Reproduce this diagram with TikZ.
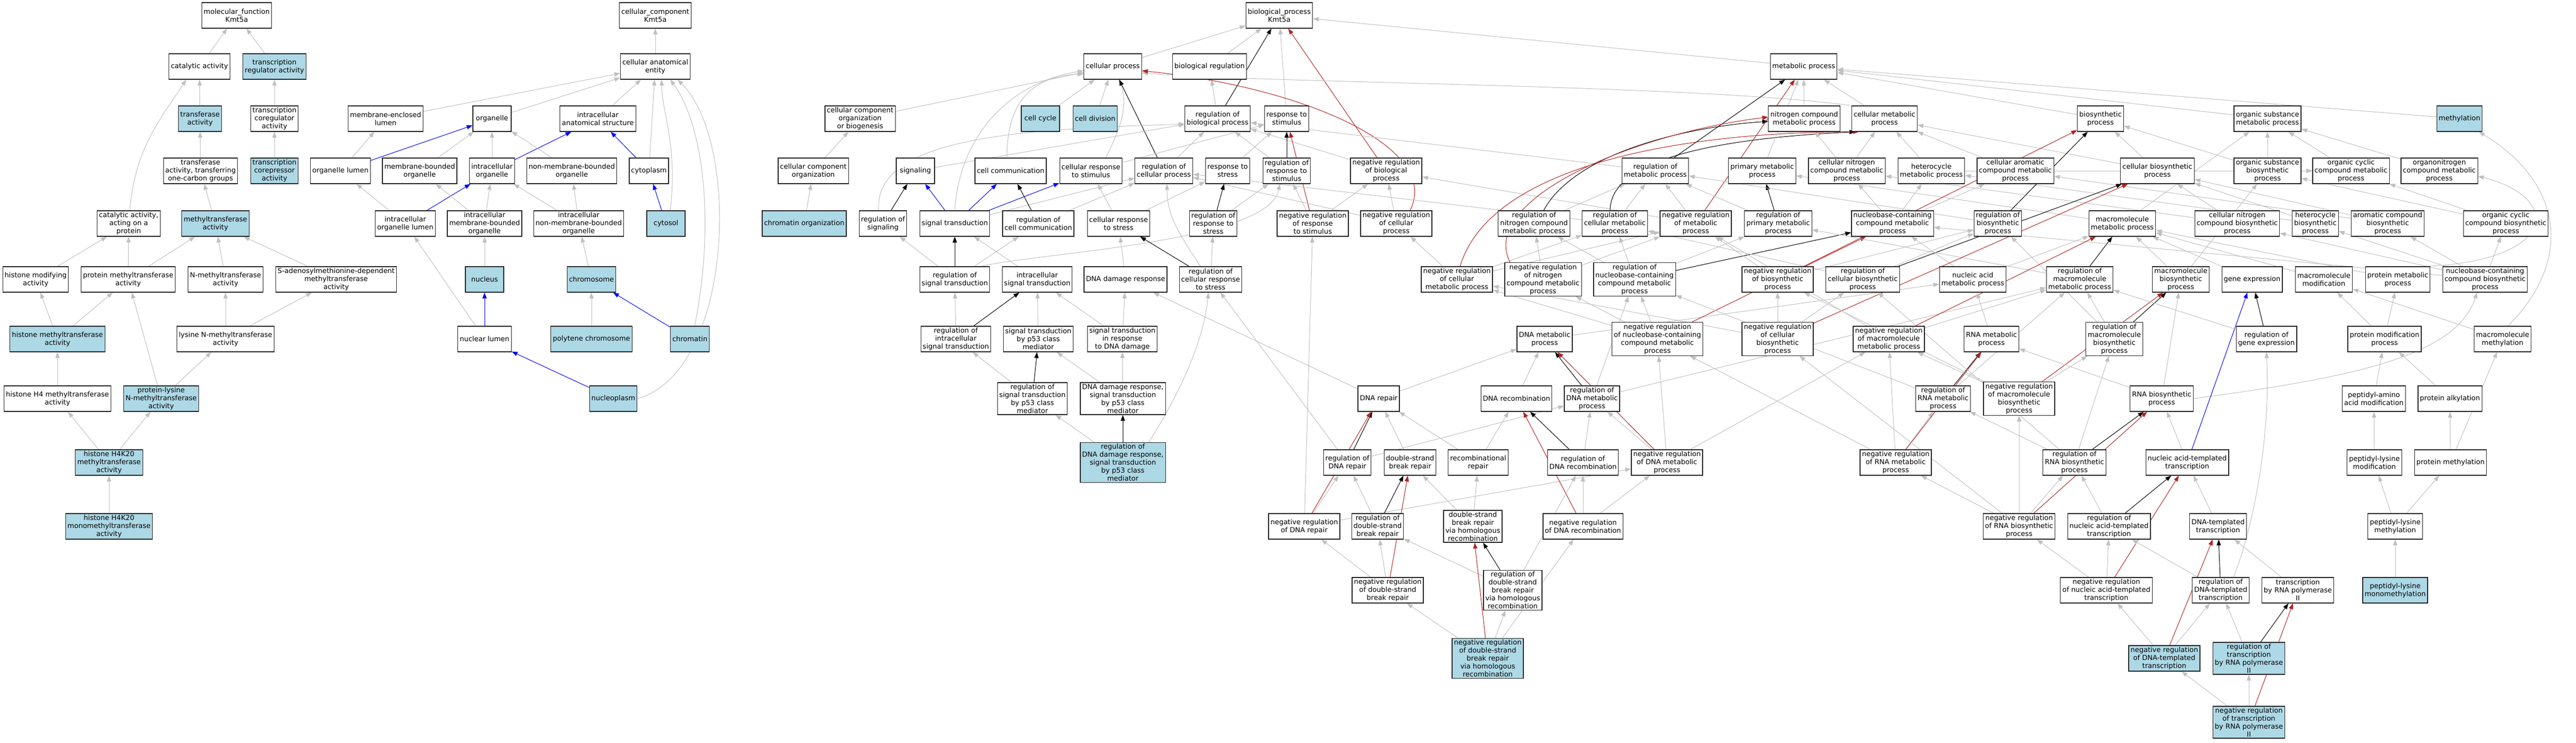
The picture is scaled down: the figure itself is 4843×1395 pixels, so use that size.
\documentclass[tikz,border=0pt]{standalone}
\usepackage{fontspec}
\setmainfont{DejaVu Sans}
\usetikzlibrary{arrows.meta}
\pgfdeclarelayer{edges}
\pgfsetlayers{edges,main}
\definecolor{termblue}{HTML}{ADD8E6}
\definecolor{isagray}{HTML}{C0C0C0}
\definecolor{negred}{HTML}{B22222}

\begin{document}
\begin{tikzpicture}[x=1pt,y=-1pt,
    term/.style={draw=black!85,line width=1.2pt,fill=white,rectangle,align=center,minimum width=72pt,minimum height=48pt,inner xsep=3.5pt,inner ysep=2.5pt,font=\fontsize{13}{15}\selectfont},
    hit/.style={term,fill=termblue},
    isa/.style={isagray,line width=1pt,-{Triangle[length=11pt,width=8pt]}},
    regl/.style={isa,black},
    partof/.style={isa,blue},
    negl/.style={isa,negred}]
    \useasboundingbox (0,0) rectangle (4843,1395);

    % molecular function
    \node[term] (mfunc) at (445,29) {molecular\_function\\Kmt5a};
    \node[term] (catact) at (375,125) {catalytic activity};
    \node[hit] (trreg) at (516,125) {transcription\\regulator activity};
    \node[hit] (transf) at (376,223) {transferase\\activity};
    \node[term] (trcoreg) at (516,223) {transcription\\coregulator\\activity};
    \node[term] (transfone) at (377,321) {transferase\\activity, transferring\\one-carbon groups};
    \node[hit] (trcorep) at (516,321) {transcription\\corepressor\\activity};
    \node[term] (catprot) at (242,420) {catalytic activity,\\acting on a\\protein};
    \node[hit] (mtase) at (405,420) {methyltransferase\\activity};
    \node[term] (histmod) at (67,525) {histone modifying\\activity};
    \node[term] (protmt) at (241,525) {protein methyltransferase\\activity};
    \node[term] (nmt) at (424,525) {N-methyltransferase\\activity};
    \node[term] (samdep) at (632,525) {S-adenosylmethionine-dependent\\methyltransferase\\activity};
    \node[hit] (histmt) at (108,637) {histone methyltransferase\\activity};
    \node[term] (lysnmt) at (424,637) {lysine N-methyltransferase\\activity};
    \node[term] (h4mt) at (108,749) {histone H4 methyltransferase\\activity};
    \node[hit] (plnmt) at (303,749) {protein-lysine\\N-methyltransferase\\activity};
    \node[hit] (h4kmt) at (205,869) {histone H4K20\\methyltransferase\\activity};
    \node[hit] (h4kmono) at (205,989) {histone H4K20\\monomethyltransferase\\activity};

    % cellular component
    \node[term] (ccomp) at (1232,29) {cellular\_component\\Kmt5a};
    \node[term] (cae) at (1232,125) {cellular anatomical\\entity};
    \node[term] (melumen) at (725,223) {membrane-enclosed\\lumen};
    \node[term] (organelle) at (925,223) {organelle};
    \node[term] (ias) at (1124,223) {intracellular\\anatomical structure};
    \node[term] (ccob) at (1617,223) {cellular component\\organization\\or biogenesis};
    \node[term] (orglumen) at (640,321) {organelle lumen};
    \node[term] (mbo) at (789,321) {membrane-bounded\\organelle};
    \node[term] (intorg) at (925,321) {intracellular\\organelle};
    \node[term] (nmbo) at (1075,321) {non-membrane-bounded\\organelle};
    \node[term] (cytoplasm) at (1220,321) {cytoplasm};
    \node[term] (cco) at (1529,321) {cellular component\\organization};
    \node[term] (intorglumen) at (762,420) {intracellular\\organelle lumen};
    \node[term] (imbo) at (911,420) {intracellular\\membrane-bounded\\organelle};
    \node[term] (inmbo) at (1088,420) {intracellular\\non-membrane-bounded\\organelle};
    \node[hit] (cytosol) at (1252,420) {cytosol};
    \node[hit] (chromorg) at (1512,420) {chromatin organization};
    \node[hit] (nucleus) at (911,525) {nucleus};
    \node[hit] (chromosome) at (1112,525) {chromosome};
    \node[term] (nuclumen) at (911,637) {nuclear lumen};
    \node[hit] (polytene) at (1112,637) {polytene chromosome};
    \node[hit] (chromatin) at (1297,637) {chromatin};
    \node[hit] (nucleoplasm) at (1153,749) {nucleoplasm};

    % biological process
    \node[term] (bproc) at (2405,29) {biological\_process\\Kmt5a};
    \node[term] (cellproc) at (2092,125) {cellular process};
    \node[term] (bioreg) at (2274,125) {biological regulation};
    \node[term] (metproc) at (3391,125) {metabolic process};
    \node[hit] (cellcycle) at (1956,223) {cell cycle};
    \node[hit] (celldiv) at (2059,223) {cell division};
    \node[term] (regbp) at (2289,223) {regulation of\\biological process};
    \node[term] (respstim) at (2419,223) {response to\\stimulus};
    \node[term] (nitmet) at (3392,223) {nitrogen compound\\metabolic process};
    \node[term] (cellmet) at (3543,223) {cellular metabolic\\process};
    \node[term] (biosyn) at (3949,223) {biosynthetic\\process};
    \node[term] (orgsubmet) at (4263,223) {organic substance\\metabolic process};
    \node[hit] (methylation) at (4624,223) {methylation};

    \node[term] (signaling) at (1721,321) {signaling};
    \node[term] (cellcomm) at (1900,321) {cell communication};
    \node[term] (cellrespstim) at (2051,321) {cellular response\\to stimulus};
    \node[term] (regcellproc) at (2188,321) {regulation of\\cellular process};
    \node[term] (respstress) at (2308,321) {response to\\stress};
    \node[term] (regrespstim) at (2419,321) {regulation of\\response to\\stimulus};
    \node[term] (negregbp) at (2606,321) {negative regulation\\of biological\\process};
    \node[term] (regmet) at (3112,321) {regulation of\\metabolic process};
    \node[term] (primmet) at (3313,321) {primary metabolic\\process};
    \node[term] (cellnitmet) at (3472,321) {cellular nitrogen\\compound metabolic\\process};
    \node[term] (hetmet) at (3631,321) {heterocycle\\metabolic process};
    \node[term] (cellarom) at (3789,321) {cellular aromatic\\compound metabolic\\process};
    \node[term] (cellbiosyn) at (4056,321) {cellular biosynthetic\\process};
    \node[term] (orgsubbiosyn) at (4263,321) {organic substance\\biosynthetic\\process};
    \node[term] (orgcycmet) at (4420,321) {organic cyclic\\compound metabolic\\process};
    \node[term] (orgnitmet) at (4586,321) {organonitrogen\\compound metabolic\\process};

    \node[term] (regsig) at (1660,420) {regulation of\\signaling};
    \node[term] (sigtrans) at (1795,420) {signal transduction};
    \node[term] (regcellcomm) at (1952,420) {regulation of\\cell communication};
    \node[term] (cellrespstress) at (2103,420) {cellular response\\to stress};
    \node[term] (regrespstress) at (2281,420) {regulation of\\response to\\stress};
    \node[term] (negregrespstim) at (2468,420) {negative regulation\\of response\\to stimulus};
    \node[term] (negregcellproc) at (2625,420) {negative regulation\\of cellular\\process};
    \node[term] (regnitmet) at (2884,420) {regulation of\\nitrogen compound\\metabolic process};
    \node[term] (regcellmet) at (3036,420) {regulation of\\cellular metabolic\\process};
    \node[term] (negregmet) at (3188,420) {negative regulation\\of metabolic\\process};
    \node[term] (regprimmet) at (3343,420) {regulation of\\primary metabolic\\process};
    \node[term] (nucbasemet) at (3558,420) {nucleobase-containing\\compound metabolic\\process};
    \node[term] (regbiosyn) at (3756,420) {regulation of\\biosynthetic\\process};
    \node[term] (macromet) at (3990,420) {macromolecule\\metabolic process};
    \node[term] (cellnitbiosyn) at (4206,420) {cellular nitrogen\\compound biosynthetic\\process};
    \node[term] (hetbiosyn) at (4353,420) {heterocycle\\biosynthetic\\process};
    \node[term] (arombiosyn) at (4489,420) {aromatic compound\\biosynthetic\\process};
    \node[term] (orgcycbiosyn) at (4711,420) {organic cyclic\\compound biosynthetic\\process};

    \node[term] (regsigtrans) at (1795,525) {regulation of\\signal transduction};
    \node[term] (intsigtrans) at (1950,525) {intracellular\\signal transduction};
    \node[term] (dnadamresp) at (2116,525) {DNA damage response};
    \node[term] (regcellrespstress) at (2276,525) {regulation of\\cellular response\\to stress};
    \node[term] (negregcellmet) at (2739,525) {negative regulation\\of cellular\\metabolic process};
    \node[term] (negregnitmet) at (2901,525) {negative regulation\\of nitrogen\\compound metabolic\\process};
    \node[term] (regnucbase) at (3073,525) {regulation of\\nucleobase-containing\\compound metabolic\\process};
    \node[term] (negregbiosyn) at (3342,525) {negative regulation\\of biosynthetic\\process};
    \node[term] (regcellbiosyn) at (3502,525) {regulation of\\cellular biosynthetic\\process};
    \node[term] (nucacidmet) at (3709,525) {nucleic acid\\metabolic process};
    \node[term] (regmacromet) at (3910,525) {regulation of\\macromolecule\\metabolic process};
    \node[term] (macrobiosyn) at (4100,525) {macromolecule\\biosynthetic\\process};
    \node[term] (geneexpr) at (4234,525) {gene expression};
    \node[term] (macromod) at (4369,525) {macromolecule\\modification};
    \node[term] (protmet) at (4508,525) {protein metabolic\\process};
    \node[term] (nucbasebiosyn) at (4672,525) {nucleobase-containing\\compound biosynthetic\\process};

    \node[term] (regintsig) at (1797,637) {regulation of\\intracellular\\signal transduction};
    \node[term] (sigpft) at (1952,637) {signal transduction\\by p53 class\\mediator};
    \node[term] (sigdna) at (2110,637) {signal transduction\\in response\\to DNA damage};
    \node[term] (dnamet) at (2904,637) {DNA metabolic\\process};
    \node[term] (negregnucbase) at (3116,637) {negative regulation\\of nucleobase-containing\\compound metabolic\\process};
    \node[term] (negregcellbiosyn) at (3342,637) {negative regulation\\of cellular\\biosynthetic\\process};
    \node[term] (negregmacromet) at (3551,637) {negative regulation\\of macromolecule\\metabolic process};
    \node[term] (rnamet) at (3744,637) {RNA metabolic\\process};
    \node[term] (regmacrobiosyn) at (3975,637) {regulation of\\macromolecule\\biosynthetic\\process};
    \node[term] (reggeneexpr) at (4261,637) {regulation of\\gene expression};
    \node[term] (protmod) at (4483,637) {protein modification\\process};
    \node[term] (macromethyl) at (4705,637) {macromolecule\\methylation};

    \node[term] (regsigpft) at (1941,749) {regulation of\\signal transduction\\by p53 class\\mediator};
    \node[term] (dnasigpft) at (2111,749) {DNA damage response,\\signal transduction\\by p53 class\\mediator};
    \node[term] (dnarepair) at (2592,749) {DNA repair};
    \node[term] (dnarecomb) at (2851,749) {DNA recombination};
    \node[term] (regdnamet) at (2993,749) {regulation of\\DNA metabolic\\process};
    \node[term] (regrnamet) at (3653,749) {regulation of\\RNA metabolic\\process};
    \node[term] (negregmacrobiosyn) at (3796,749) {negative regulation\\of macromolecule\\biosynthetic\\process};
    \node[term] (rnabiosyn) at (4064,749) {RNA biosynthetic\\process};
    \node[term] (peptaa) at (4463,749) {peptidyl-amino\\acid modification};
    \node[term] (protalk) at (4606,749) {protein alkylation};

    \node[hit] (regdnadam) at (2111,869) {regulation of\\DNA damage response,\\signal transduction\\by p53 class\\mediator};
    \node[term] (regdnarepair) at (2533,869) {regulation of\\DNA repair};
    \node[term] (dsbrepair) at (2651,869) {double-strand\\break repair};
    \node[term] (recombrepair) at (2779,869) {recombinational\\repair};
    \node[term] (regdnarecomb) at (2976,869) {regulation of\\DNA recombination};
    \node[term] (negregdnamet) at (3134,869) {negative regulation\\of DNA metabolic\\process};
    \node[term] (negregrnamet) at (3564,869) {negative regulation\\of RNA metabolic\\process};
    \node[term] (regrnabiosyn) at (3900,869) {regulation of\\RNA biosynthetic\\process};
    \node[term] (nucacidtrans) at (4112,869) {nucleic acid-templated\\transcription};
    \node[term] (peptlysmod) at (4464,869) {peptidyl-lysine\\modification};
    \node[term] (protmethyl) at (4607,869) {protein methylation};

    \node[term] (negregdnarepair) at (2452,989) {negative regulation\\of DNA repair};
    \node[term] (regdsb) at (2590,989) {regulation of\\double-strand\\break repair};
    \node[term] (dsbhr) at (2769,989) {double-strand\\break repair\\via homologous\\recombination};
    \node[term] (negregdnarecomb) at (2976,989) {negative regulation\\of DNA recombination};
    \node[term] (negregrnabiosyn) at (3796,989) {negative regulation\\of RNA biosynthetic\\process};
    \node[term] (regnucacidtrans) at (3965,989) {regulation of\\nucleic acid-templated\\transcription};
    \node[term] (dnatrans) at (4170,989) {DNA-templated\\transcription};
    \node[term] (peptlysmethyl) at (4503,989) {peptidyl-lysine\\methylation};

    \node[term] (negregdsb) at (2609,1109) {negative regulation\\of double-strand\\break repair};
    \node[term] (regdsbhr) at (2844,1109) {regulation of\\double-strand\\break repair\\via homologous\\recombination};
    \node[term] (negregnucacidtrans) at (3960,1109) {negative regulation\\of nucleic acid-templated\\transcription};
    \node[term] (regdnatrans) at (4175,1109) {regulation of\\DNA-templated\\transcription};
    \node[term] (transpoltwo) at (4320,1109) {transcription\\by RNA polymerase\\II};
    \node[hit] (peptlysmono) at (4503,1109) {peptidyl-lysine\\monomethylation};

    \node[hit] (negregdsbhr) at (2797,1237) {negative regulation\\of double-strand\\break repair\\via homologous\\recombination};
    \node[hit] (negregdnatrans) at (4069,1237) {negative regulation\\of DNA-templated\\transcription};
    \node[hit] (regtranspoltwo) at (4228,1237) {regulation of\\transcription\\by RNA polymerase\\II};
    \node[hit] (negregtranspoltwo) at (4228,1357) {negative regulation\\of transcription\\by RNA polymerase\\II};

    \begin{pgfonlayer}{edges}
    % molecular function edges
    \draw[isa] (catact) -- (mfunc);
    \draw[isa] (trreg) -- (mfunc);
    \draw[isa] (transf) -- (catact);
    \draw[isa] (trcoreg) -- (trreg);
    \draw[isa] (trcorep) -- (trcoreg);
    \draw[isa] (transfone) -- (transf);
    \draw[isa] ([xshift=2pt]catprot.north) .. controls +(10,-120) and +(-45,70) .. ([xshift=-25pt]catact.south);
    \draw[isa] (mtase) -- (transfone);
    \draw[isa] (histmod) -- (catprot);
    \draw[isa] (protmt) -- (catprot);
    \draw[isa] (protmt) -- (mtase);
    \draw[isa] (nmt) -- (mtase);
    \draw[isa] (samdep) -- (mtase);
    \draw[isa] (histmt) -- (histmod);
    \draw[isa] (histmt) -- (protmt);
    \draw[isa] (lysnmt) -- (nmt);
    \draw[isa] (lysnmt) -- (samdep);
    \draw[isa] (plnmt) -- (protmt);
    \draw[isa] (plnmt) -- (lysnmt);
    \draw[isa] (h4mt) -- (histmt);
    \draw[isa] (h4kmt) -- (h4mt);
    \draw[isa] (h4kmt) -- (plnmt);
    \draw[isa] (h4kmono) -- (h4kmt);

    % cellular component edges
    \draw[isa] (cae) -- (ccomp);
    \draw[isa] (melumen) -- (cae);
    \draw[isa] (organelle) -- (cae);
    \draw[isa] (ias) -- (cae);
    \draw[isa] (cytoplasm) -- (cae);
    \draw[isa] ([xshift=8pt]cytosol.north) .. controls +(15,-120) and +(0,60) .. ([xshift=12pt]cae.south);
    \draw[isa] ([xshift=9pt]chromatin.north) .. controls +(40,-200) and +(60,80) .. ([xshift=28pt]cae.south);
    \draw[isa] (nucleoplasm.east) .. controls +(180,-50) and +(120,120) .. ([xshift=42pt]cae.south);
    \draw[isa] (orglumen) -- (melumen);
    \draw[partof] (orglumen) -- (organelle);
    \draw[isa] (mbo) -- (organelle);
    \draw[isa] (intorg) -- (organelle);
    \draw[partof] (intorg) -- (ias);
    \draw[isa] (nmbo) -- (organelle);
    \draw[partof] (cytoplasm) -- (ias);
    \draw[isa] (intorglumen) -- (orglumen);
    \draw[partof] (intorglumen) -- (intorg);
    \draw[isa] (imbo) -- (mbo);
    \draw[isa] (imbo) -- (intorg);
    \draw[isa] (inmbo) -- (intorg);
    \draw[isa] (inmbo) -- (nmbo);
    \draw[partof] (cytosol) -- (cytoplasm);
    \draw[isa] (nucleus) -- (imbo);
    \draw[isa] (chromosome) -- (inmbo);
    \draw[isa] (nuclumen) -- (intorglumen);
    \draw[partof] (nuclumen) -- (nucleus);
    \draw[isa] (polytene) -- (chromosome);
    \draw[partof] (chromatin) -- (chromosome);
    \draw[partof] (nucleoplasm) -- (nuclumen);
    \draw[isa] (chromorg) -- (cco);
    \draw[isa] (cco) -- (ccob);
    \draw[isa] (ccob) -- (cellproc);

    % biological process edges
    \draw[isa] (cellproc) -- (bproc);
    \draw[isa] (bioreg) -- (bproc);
    \draw[isa] (respstim) -- (bproc);
    \draw[isa] (metproc) -- (bproc);
    \draw[isa] (regbp) -- (bioreg);
    \draw[regl] (regbp) -- (bproc);
    \draw[negl] (negregbp) -- (bproc);
    \draw[isa] (negregbp) -- (regbp);
    \draw[isa] (cellcycle) -- (cellproc);
    \draw[isa] (celldiv) -- (cellproc);
    \draw[isa] (sigtrans.north) .. controls +(10,-150) and +(-130,20) .. ([yshift=-8pt]cellproc.west);
    \draw[isa] ([xshift=-7pt]cellcomm.north) .. controls +(0,-90) and +(-110,5) .. ([yshift=-14pt]cellproc.west);
    \draw[isa] ([xshift=28pt]cellrespstim.north) .. controls +(30,-60) and +(15,50) .. ([xshift=13pt]cellproc.south);
    \draw[isa] (cellmet.north west) .. controls +(-300,-40) and +(250,20) .. ([yshift=-12pt]cellproc.east);
    \draw[regl] (regcellproc) -- (cellproc);
    \draw[negl] ([xshift=26pt]negregcellproc.north) .. controls +(60,-120) and +(300,30) .. ([yshift=-8pt]cellproc.east);
    \draw[isa] (signaling) -- (regbp);
    \draw[isa] ([xshift=-8pt]regsig.north) .. controls +(-10,-140) and +(-300,10) .. ([yshift=-10pt]regbp.west);
    \draw[isa] (regcellproc) -- (regbp);
    \draw[isa] (regrespstim) -- (regbp);
    \draw[isa] (regmet) -- (regbp);
    \draw[isa] (cellrespstim) -- (respstim);
    \draw[isa] (respstress) -- (respstim);
    \draw[regl] (regrespstim) -- (respstim);
    \draw[negl] (negregrespstim) -- (respstim);
    \draw[regl] (regsig) -- (signaling);
    \draw[partof] (sigtrans) -- (signaling);
    \draw[partof] (sigtrans) -- (cellcomm);
    \draw[partof] (sigtrans) -- (cellrespstim);
    \draw[isa] (sigtrans) -- (regcellproc);
    \draw[regl] (regcellcomm) -- (cellcomm);
    \draw[isa] (regcellcomm) -- (regcellproc);
    \draw[isa] (regcellmet) -- (regcellproc);
    \draw[isa] (negregcellproc) -- (regcellproc);
    \draw[isa] ([xshift=-19pt]regcellrespstress.north) .. controls +(-40,-60) and +(0,60) .. ([xshift=6pt]regcellproc.south);
    \draw[isa] (cellrespstress) -- (cellrespstim);
    \draw[isa] (cellrespstress) -- (respstress);
    \draw[regl] (regrespstress) -- (respstress);
    \draw[isa] (regrespstress) -- (regrespstim);
    \draw[isa] (negregrespstim) -- (regrespstim);
    \draw[isa] (negregrespstim) -- (negregbp);
    \draw[isa] (negregcellproc) -- (negregbp);
    \draw[isa] (negregmet) -- (negregbp);
    \draw[regl] (regsigtrans) -- (sigtrans);
    \draw[isa] (regsigtrans) -- (regsig);
    \draw[isa] (regsigtrans) -- (regcellcomm);
    \draw[isa] ([xshift=50pt]regsigtrans.north) .. controls +(100,-25) and +(-20,110) .. ([xshift=-13pt]regrespstim.south);
    \draw[isa] (intsigtrans) -- (sigtrans);
    \draw[isa] (dnadamresp) -- (cellrespstress);
    \draw[regl] (regcellrespstress) -- (cellrespstress);
    \draw[isa] (regcellrespstress) -- (regrespstress);
    \draw[isa] (regintsig) -- (regsigtrans);
    \draw[regl] (regintsig) -- (intsigtrans);
    \draw[isa] (sigpft) -- (intsigtrans);
    \draw[isa] (sigdna) -- (intsigtrans);
    \draw[isa] (sigdna) -- (dnadamresp);
    \draw[isa] (regsigpft) -- (regintsig);
    \draw[regl] (regsigpft) -- (sigpft);
    \draw[isa] (dnasigpft) -- (sigpft);
    \draw[isa] (dnasigpft) -- (sigdna);
    \draw[isa] (regdnadam) -- (regsigpft);
    \draw[regl] (regdnadam) -- (dnasigpft);
    \draw[isa] ([xshift=49pt]regdnadam.north) .. controls +(50,-80) and +(-10,100) .. ([xshift=-4pt]regcellrespstress.south);

    % DNA repair and recombination
    \draw[isa] (dnarepair) -- (dnadamresp);
    \draw[isa] (dnarepair) -- (dnamet);
    \draw[isa] (dnarecomb) -- (dnamet);
    \draw[regl] (regdnamet) -- (dnamet);
    \draw[isa] (regdnamet) -- (regnucbase);
    \draw[isa] (regdnamet) -- (regmacromet);
    \draw[regl] (regdnarepair) -- (dnarepair);
    \draw[isa] (regdnarepair) -- (regcellrespstress);
    \draw[isa] (regdnarepair) -- (regdnamet);
    \draw[isa] (dsbrepair) -- (dnarepair);
    \draw[isa] (recombrepair) -- (dnarepair);
    \draw[isa] (recombrepair) -- (dnarecomb);
    \draw[regl] (regdnarecomb) -- (dnarecomb);
    \draw[isa] (regdnarecomb) -- (regdnamet);
    \draw[isa] (negregdnamet) -- (regdnamet);
    \draw[negl] (negregdnamet) -- (dnamet);
    \draw[isa] (negregdnamet) -- (negregnucbase);
    \draw[isa] (negregdnamet) -- (negregmacromet);
    \draw[isa] (negregdnarepair) -- (regdnarepair);
    \draw[negl] (negregdnarepair) -- (dnarepair);
    \draw[isa] (negregdnarepair) -- (negregdnamet);
    \draw[isa] (negregdnarepair) -- (negregrespstim);
    \draw[isa] (regdsb) -- (regdnarepair);
    \draw[regl] (regdsb) -- (dsbrepair);
    \draw[isa] (dsbhr) -- (dsbrepair);
    \draw[isa] (dsbhr) -- (recombrepair);
    \draw[isa] (negregdnarecomb) -- (regdnarecomb);
    \draw[negl] (negregdnarecomb) -- (dnarecomb);
    \draw[isa] (negregdnarecomb) -- (negregdnamet);
    \draw[isa] (negregdsb) -- (negregdnarepair);
    \draw[isa] (negregdsb) -- (regdsb);
    \draw[negl] (negregdsb) -- (dsbrepair);
    \draw[regl] (regdsbhr) -- (dsbhr);
    \draw[isa] (regdsbhr) -- (regdnarecomb);
    \draw[isa] (regdsbhr) -- (regdsb);
    \draw[isa] (negregdsbhr) -- (negregdsb);
    \draw[isa] (negregdsbhr) -- (regdsbhr);
    \draw[negl] (negregdsbhr) -- (dsbhr);
    \draw[isa] (negregdsbhr) -- (negregdnarecomb);

    % metabolic process
    \draw[regl] (regmet) -- (metproc);
    \draw[isa] (regnitmet) -- (regmet);
    \draw[regl] ([xshift=18pt]regnitmet.north) .. controls +(60,-110) and +(-150,10) .. ([yshift=-5pt]nitmet.west);
    \draw[isa] (regcellmet) -- (regmet);
    \draw[regl] ([xshift=-9pt]regcellmet.north) .. controls +(0,-110) and +(-200,10) .. ([xshift=-55pt]cellmet.south);
    \draw[isa] (negregmet) -- (regmet);
    \draw[negl] (negregmet) -- (metproc);
    \draw[isa] (regprimmet) -- (regmet);
    \draw[regl] (regprimmet) -- (primmet);
    \draw[isa] (regbiosyn) -- (regmet);
    \draw[isa] (negregcellmet) -- (negregcellproc);
    \draw[isa] (negregcellmet) -- (regcellmet);
    \draw[isa] (negregcellmet) -- (negregmet);
    \draw[negl] ([xshift=6pt]negregcellmet.north) .. controls +(60,-200) and +(-300,0) .. ([xshift=-48pt]cellmet.south);
    \draw[isa] (negregnitmet) -- (regnitmet);
    \draw[isa] (negregnitmet) -- (negregmet);
    \draw[negl] ([xshift=-62pt]negregnitmet.north) .. controls +(-60,-120) and +(-250,30) .. ([yshift=3pt]nitmet.west);
    \draw[isa] (regnucbase) -- (regnitmet);
    \draw[isa] (regnucbase) -- (regcellmet);
    \draw[isa] (regnucbase) -- (regprimmet);
    \draw[regl] (regnucbase) -- (nucbasemet);
    \draw[isa] (dnamet) -- (nucacidmet);
    \draw[isa] (negregnucbase) -- (regnucbase);
    \draw[isa] (negregnucbase) -- (negregnitmet);
    \draw[isa] (negregnucbase) -- (negregcellmet);
    \draw[negl] (negregnucbase) -- (nucbasemet);
    \draw[isa] (nitmet) -- (metproc);
    \draw[isa] (cellmet) -- (metproc);
    \draw[isa] (biosyn) -- (metproc);
    \draw[isa] (orgsubmet) -- (metproc);
    \draw[isa] (methylation) -- (metproc);
    \draw[isa] (primmet) -- (metproc);
    \draw[isa] (cellnitmet) -- (nitmet);
    \draw[isa] (cellnitmet) -- (cellmet);
    \draw[isa] (hetmet) -- (cellmet);
    \draw[isa] (cellarom) -- (cellmet);
    \draw[isa] (cellbiosyn) -- (cellmet);
    \draw[isa] (cellbiosyn) -- (biosyn);
    \draw[isa] (orgsubbiosyn) -- (biosyn);
    \draw[isa] (macromet) -- (primmet);
    \draw[isa] (nucbasemet) -- (cellnitmet);
    \draw[isa] (nucbasemet) -- (hetmet);
    \draw[isa] (nucbasemet) -- (cellarom);
    \draw[isa] (cellnitbiosyn) -- (cellnitmet);
    \draw[isa] (hetbiosyn) -- (hetmet);
    \draw[isa] (arombiosyn) -- (cellarom);
    \draw[isa] (nucacidmet) -- (nucbasemet);
    \draw[isa] (nucacidmet) -- (macromet);
    \draw[isa] (nucbasebiosyn) -- (nucbasemet);
    \draw[isa] (regcellbiosyn) -- (regbiosyn);
    \draw[isa] (regcellbiosyn) -- (regcellmet);
    \draw[regl] (regcellbiosyn) -- (cellbiosyn);
    \draw[isa] (negregbiosyn) -- (regbiosyn);
    \draw[isa] (negregbiosyn) -- (negregmet);
    \draw[negl] (negregbiosyn) -- (biosyn);
    \draw[regl] (regbiosyn) -- (biosyn);
    \draw[isa] (regmacrobiosyn) -- (regbiosyn);
    \draw[isa] (regmacrobiosyn) -- (regmacromet);
    \draw[regl] (regmacrobiosyn) -- (macrobiosyn);
    \draw[regl] (regmacromet) -- (macromet);
    \draw[isa] (regmacromet) -- (regprimmet);
    \draw[isa] (negregcellbiosyn) -- (negregbiosyn);
    \draw[isa] (negregcellbiosyn) -- (regcellbiosyn);
    \draw[isa] (negregcellbiosyn) -- (negregcellmet);
    \draw[negl] (negregcellbiosyn) -- (cellbiosyn);
    \draw[isa] (negregmacromet) -- (regmacromet);
    \draw[isa] (negregmacromet) -- (negregmet);
    \draw[negl] (negregmacromet) -- (macromet);
    \draw[isa] (rnamet) -- (nucacidmet);
    \draw[regl] (regrnamet) -- (rnamet);
    \draw[isa] (regrnamet) -- (regnucbase);
    \draw[isa] (regrnamet) -- (regmacromet);
    \draw[isa] (negregmacrobiosyn) -- (regmacrobiosyn);
    \draw[isa] (negregmacrobiosyn) -- (negregmacromet);
    \draw[isa] (negregmacrobiosyn) -- (negregbiosyn);
    \draw[negl] (negregmacrobiosyn) -- (macrobiosyn);
    \draw[isa] (rnabiosyn) -- (rnamet);
    \draw[isa] (rnabiosyn) -- (macrobiosyn);
    \draw[isa] (rnabiosyn.east) .. controls +(300,-40) and +(-40,120) .. ([xshift=-15pt]nucbasebiosyn.south);
    \draw[isa] (negregrnamet) -- (regrnamet);
    \draw[negl] (negregrnamet) -- (rnamet);
    \draw[isa] (negregrnamet) -- (negregnucbase);
    \draw[isa] (negregrnamet) -- (negregmacromet);
    \draw[isa] (regrnabiosyn) -- (regrnamet);
    \draw[regl] (regrnabiosyn) -- (rnabiosyn);
    \draw[isa] (regrnabiosyn) -- (regmacrobiosyn);
    \draw[isa] (regrnabiosyn) -- (regcellbiosyn);
    \draw[isa] (negregrnabiosyn) -- (negregrnamet);
    \draw[isa] (negregrnabiosyn) -- (regrnabiosyn);
    \draw[isa] (negregrnabiosyn) -- (negregmacrobiosyn);
    \draw[isa] (negregrnabiosyn) -- (negregcellbiosyn);
    \draw[negl] (negregrnabiosyn) -- (rnabiosyn);

    % transcription
    \draw[isa] (nucacidtrans) -- (rnabiosyn);
    \draw[partof] (nucacidtrans) -- (geneexpr);
    \draw[isa] (regnucacidtrans) -- (regrnabiosyn);
    \draw[regl] (regnucacidtrans) -- (nucacidtrans);
    \draw[isa] (negregnucacidtrans) -- (negregrnabiosyn);
    \draw[isa] (negregnucacidtrans) -- (regnucacidtrans);
    \draw[negl] (negregnucacidtrans) -- (nucacidtrans);
    \draw[isa] (dnatrans) -- (nucacidtrans);
    \draw[regl] (regdnatrans) -- (dnatrans);
    \draw[isa] (regdnatrans) -- (regnucacidtrans);
    \draw[isa] ([xshift=24pt]regdnatrans.north) .. controls +(40,-100) and +(8,150) .. (reggeneexpr.south);
    \draw[isa] (transpoltwo) -- (dnatrans);
    \draw[isa] (negregdnatrans) -- (negregnucacidtrans);
    \draw[isa] (negregdnatrans) -- (regdnatrans);
    \draw[negl] (negregdnatrans) -- (dnatrans);
    \draw[isa] (regtranspoltwo) -- (regdnatrans);
    \draw[regl] (regtranspoltwo) -- (transpoltwo);
    \draw[isa] (negregtranspoltwo) -- (negregdnatrans);
    \draw[isa] (negregtranspoltwo) -- (regtranspoltwo);
    \draw[negl] (negregtranspoltwo) -- (transpoltwo);

    % organic substance and proteins
    \draw[isa] (orgsubbiosyn) -- (orgsubmet);
    \draw[isa] (orgcycmet) -- (orgsubmet);
    \draw[isa] (orgnitmet) -- (orgsubmet);
    \draw[isa] (macromet) -- (orgsubmet);
    \draw[isa] (hetmet) -- (orgcycmet);
    \draw[isa] (cellarom) -- (orgcycmet);
    \draw[isa] (orgcycbiosyn) -- (orgcycmet);
    \draw[isa] (orgcycbiosyn) -- (orgsubbiosyn);
    \draw[isa] ([xshift=51pt]protmet.north) .. controls +(250,-10) and +(160,40) .. ([yshift=-10pt]orgnitmet.east);
    \draw[isa] (cellnitbiosyn) -- (cellbiosyn);
    \draw[isa] (hetbiosyn) -- (cellbiosyn);
    \draw[isa] (arombiosyn) -- (cellbiosyn);
    \draw[isa] (macrobiosyn) -- (macromet);
    \draw[isa] (macrobiosyn) -- (orgsubbiosyn);
    \draw[isa] (geneexpr) -- (macromet);
    \draw[isa] (macromod) -- (macromet);
    \draw[isa] (protmet) -- (macromet);
    \draw[isa] (nucbasebiosyn) -- (orgcycbiosyn);
    \draw[isa] (nucbasebiosyn) -- (hetbiosyn);
    \draw[isa] (nucbasebiosyn) -- (arombiosyn);
    \draw[isa] (nucbasebiosyn) -- (cellnitbiosyn);
    \draw[regl] (reggeneexpr) -- (geneexpr);
    \draw[isa] (reggeneexpr) -- (regmacromet);
    \draw[isa] (protmod) -- (macromod);
    \draw[isa] (protmod) -- (protmet);
    \draw[isa] (macromethyl) -- (macromod);
    \draw[isa] ([xshift=10pt]macromethyl.north) .. controls +(130,-130) and +(150,90) .. ([xshift=-7pt]methylation.south east);
    \draw[isa] (peptaa) -- (protmod);
    \draw[isa] (protalk) -- (protmod);
    \draw[isa] (peptlysmod) -- (peptaa);
    \draw[isa] (protmethyl) -- (protalk);
    \draw[isa] (protmethyl) -- (macromethyl);
    \draw[isa] (peptlysmethyl) -- (peptlysmod);
    \draw[isa] (peptlysmethyl) -- (protmethyl);
    \draw[isa] (peptlysmono) -- (peptlysmethyl);
    \end{pgfonlayer}
\end{tikzpicture}
\end{document}
